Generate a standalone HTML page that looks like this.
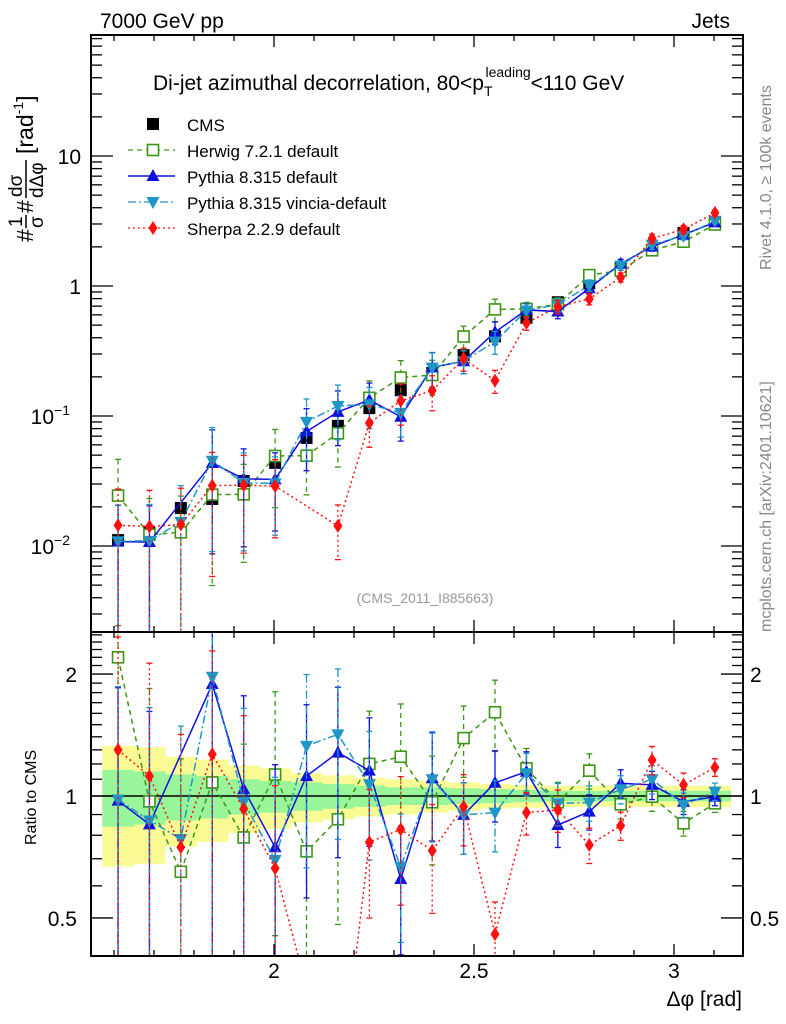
<!DOCTYPE html>
<html><head><meta charset="utf-8"><style>
html,body{margin:0;background:#fff;width:786px;height:1024px;overflow:hidden;}
svg{display:block;font-family:"Liberation Sans",sans-serif;}
</style></head><body>
<svg id="c" width="786" height="1024" style="position:absolute;left:0;top:0" xmlns="http://www.w3.org/2000/svg"></svg>
<script>
const binCenters=[1.6101,1.6886,1.7671,1.8457,1.9242,2.0028,2.0813,2.1598,2.2384,2.3169,2.3955,2.4740,2.5525,2.6311,2.7096,2.7882,2.8667,2.9452,3.0238,3.1023];
const cmsVals=[0.0111,0.0126,0.0196,0.0230,0.0316,0.0436,0.0678,0.084,0.115,0.158,0.214,0.294,0.41,0.57,0.75,1.05,1.38,1.89,2.56,3.1];
const bandTotal=[0.33,0.32,0.25,0.23,0.19,0.17,0.14,0.125,0.11,0.10,0.09,0.08,0.07,0.065,0.06,0.06,0.06,0.06,0.06,0.06];
const bandStat=[0.16,0.15,0.13,0.12,0.10,0.09,0.08,0.07,0.06,0.05,0.05,0.045,0.04,0.035,0.03,0.03,0.03,0.03,0.03,0.03];
const herwigRatio=[2.20,0.97,0.65,1.08,0.79,1.13,0.73,0.876,1.20,1.25,0.965,1.39,1.61,1.17,0.965,1.155,0.954,0.996,0.856,0.959];
const pythiaRatio=[0.974,0.851,null,1.89,1.04,0.747,1.12,1.28,1.155,0.624,1.106,0.898,1.078,1.148,0.848,0.915,1.075,1.065,0.968,0.996];
const vinciaRatio=[0.98,0.87,0.783,1.97,0.968,0.695,1.33,1.42,1.069,0.669,1.10,0.898,0.91,1.138,0.959,0.963,1.039,1.10,0.95,1.025];
const sherpaRatio=[1.30,1.12,0.747,1.268,0.929,0.663,null,0.17,0.769,0.827,0.733,0.941,0.456,0.91,0.924,0.757,0.845,1.227,1.065,1.177];
const mcRelErr=[0.9,0.9,0.9,0.8,0.7,0.6,0.5,0.45,0.35,0.35,0.3,0.2,0.2,0.12,0.12,0.1,0.08,0.08,0.07,0.05];
const binHalf=Math.PI/80;

const NS="http://www.w3.org/2000/svg";
const svg=document.getElementById('c');
function el(t,a,p){const e=document.createElementNS(NS,t);for(const k in a)e.setAttribute(k,a[k]);(p||svg).appendChild(e);return e;}
const X0=91,X1=743,MT=35,MB=632,RB=956;
const xs=v=>274+400*(v-2);
const ym=v=>286-130*Math.log10(v);
const yr=v=>796-405*Math.log10(v);
const clipM=el('clipPath',{id:'cm'});el('rect',{x:X0,y:MT,width:X1-X0,height:MB-MT},clipM);
const clipR=el('clipPath',{id:'cr'});el('rect',{x:X0,y:MB,width:X1-X0,height:RB-MB},clipR);

const gB=el('g',{'clip-path':'url(#cr)'});

binCenters.forEach((c,i)=>{
  const r=el('rect',{x:xs(c-binHalf),width:xs(c+binHalf)-xs(c-binHalf)+0.5,y:yr(1+bandTotal[i]),height:yr(1-bandTotal[i])-yr(1+bandTotal[i]),fill:'#fbfb96'},gB);
  
});
binCenters.forEach((c,i)=>{
  const r=el('rect',{x:xs(c-binHalf),width:xs(c+binHalf)-xs(c-binHalf)+0.5,y:yr(1+bandStat[i]),height:yr(1-bandStat[i])-yr(1+bandStat[i]),fill:'#99f599'},gB);
  
});
el('line',{x1:X0,x2:X1,y1:yr(1),y2:yr(1),stroke:'#000','stroke-width':1.5});

const series=[
 {name:'herwig',ratio:herwigRatio,color:'#3c9614',dash:'5,4',marker:'sq'},
 {name:'pythia',ratio:pythiaRatio,color:'#1010e0',dash:'',marker:'up'},
 {name:'vincia',ratio:vinciaRatio,color:'#1e96c8',dash:'8,3,2,3',marker:'dn'},
 {name:'sherpa',ratio:sherpaRatio,color:'#ff1010',dash:'2,3',marker:'di'}];

function marker(g,type,x,y,col,nm){
  let m;
  if(type==='sq')m=el('rect',{x:x-5.5,y:y-5.5,width:11,height:11,fill:'#fff',stroke:col,'stroke-width':1.6},g);
  else if(type==='up')m=el('polygon',{points:`${x},${y-7} ${x-6.5},${y+5} ${x+6.5},${y+5}`,fill:col},g);
  else if(type==='dn')m=el('polygon',{points:`${x},${y+7} ${x-6.5},${y-5} ${x+6.5},${y-5}`,fill:col},g);
  else if(type==='di')m=el('polygon',{points:`${x},${y-7} ${x-4.5},${y} ${x},${y+7} ${x+4.5},${y}`,fill:col},g);
  else m=el('rect',{x:x-6,y:y-6,width:12,height:12,fill:'#000'},g);
  
  
}

function drawSeries(s,panel){
  const clip=panel==='main'?'url(#cm)':'url(#cr)';
  const g=el('g',{'clip-path':clip});
  
  
  const pts=[];
  const bottom=panel==='main'?MB+5:RB+5;
  binCenters.forEach((c,i)=>{
    const r=s.ratio[i]; if(r==null)return;
    const v=panel==='main'?r*cmsVals[i]:r;
    const f=panel==='main'?ym:yr;
    const lo=v*(1-mcRelErr[i]), hi=v*(1+mcRelErr[i]);
    const yl=lo>0?Math.min(f(lo),bottom):bottom;
    const x=xs(c);
    const eb=el('line',{x1:x,x2:x,y1:f(hi),y2:yl,stroke:s.color,'stroke-width':1.3,'stroke-dasharray':s.dash},g);
    
    el('line',{x1:x-3,x2:x+3,y1:f(hi),y2:f(hi),stroke:s.color,'stroke-width':1.3},g);
    if(lo>0)el('line',{x1:x-3,x2:x+3,y1:f(lo),y2:f(lo),stroke:s.color,'stroke-width':1.3},g);
    pts.push([x,f(v)]);
  });
  const p=el('polyline',{points:pts.map(q=>q.join(',')).join(' '),fill:'none',stroke:s.color,'stroke-width':1.5,'stroke-dasharray':s.dash},g);
  
  pts.forEach(q=>marker(g,s.marker,q[0],q[1],s.color,s.name+'-marker'));
}
const gC=el('g',{'clip-path':'url(#cm)'});

binCenters.forEach((c,i)=>marker(gC,'cms',xs(c),ym(cmsVals[i]),'#000','cms-point'));
series.forEach(s=>{drawSeries(s,'main');drawSeries(s,'ratio');});

[[MT,MB],[MB,RB]].forEach(([a,b],k)=>{
  const r=el('rect',{x:X0,y:a,width:X1-X0,height:b-a,fill:'none',stroke:'#000','stroke-width':2});
  
});
for(let k=16;k<=31;k++){
  const v=k/10,x=xs(v); if(x<X0||x>X1)continue;
  const major=(k%5===0)?12:6;
  [[MT,1],[MB,-1],[MB,1],[RB,-1]].forEach(([y,d])=>el('line',{x1:x,x2:x,y1:y,y2:y+d*major,stroke:'#000','stroke-width':1.3}));
}
[[2,'2'],[2.5,'2.5'],[3,'3']].forEach(([v,t])=>{const e=el('text',{x:xs(v),y:978,'font-size':21,'text-anchor':'middle'});e.textContent=t;});
for(let d=-3;d<=1;d++)for(let m=1;m<=9;m++){
  const v=m*Math.pow(10,d),y=ym(v); if(y<MT||y>MB)continue;
  const L=m===1?22:11;
  el('line',{x1:X0,x2:X0+L,y1:y,y2:y,stroke:'#000','stroke-width':1.3});
  el('line',{x1:X1,x2:X1-L,y1:y,y2:y,stroke:'#000','stroke-width':1.3});
}
[[10,'10',''],[1,'1',''],[0.1,'10','−1'],[0.01,'10','−2']].forEach(([v,t,s])=>{
  const e=el('text',{x:s?70:81,y:ym(v)+8,'font-size':21,'text-anchor':'end'});e.textContent=t;
  if(s){const ts=el('tspan',{dy:-9,'font-size':14},e);ts.textContent=s;}
  
});
[0.4,0.5,0.6,0.7,0.8,0.9,1,1.1,1.2,1.3,1.4,1.5,1.6,1.7,1.8,1.9,2,2.1,2.2,2.3,2.4,2.5].forEach(v=>{
  const y=yr(v); if(y<MB||y>RB)return;
  const L=(v===0.5||v===1||v===2)?22:11;
  el('line',{x1:X0,x2:X0+L,y1:y,y2:y,stroke:'#000','stroke-width':1.3});
  el('line',{x1:X1,x2:X1-L,y1:y,y2:y,stroke:'#000','stroke-width':1.3});
});
[[2,'2'],[1,'1'],[0.5,'0.5']].forEach(([v,t])=>{
  const a=el('text',{x:77,y:yr(v)+8,'font-size':21,'text-anchor':'end'});a.textContent=t;
  const b=el('text',{x:750,y:yr(v)+8,'font-size':21}); b.textContent=t;
});
</script>
<svg width="786" height="1024" style="position:absolute;left:0;top:0" xmlns="http://www.w3.org/2000/svg" font-family="Liberation Sans, sans-serif">
<text x="100" y="28" font-size="21">7000 GeV pp</text>
<text x="730" y="28" font-size="21" text-anchor="end">Jets</text>
<text x="153" y="90" font-size="21">Di-jet azimuthal decorrelation, 80&lt;p<tspan dy="6" font-size="14">T</tspan><tspan dy="-19" dx="-7" font-size="14">leading</tspan><tspan dy="13">&lt;110 GeV</tspan></text>
<g font-size="17">
 <rect x="147" y="118" width="12" height="12" fill="#000"/>
 <text x="187" y="131">CMS</text>
 <line x1="128" x2="175" y1="150" y2="150" stroke="#3c9614" stroke-width="1.3" stroke-dasharray="5,4"/>
 <rect x="147.5" y="144.5" width="11" height="11" fill="#fff" stroke="#3c9614" stroke-width="1.6"/>
 <text x="187" y="157">Herwig 7.2.1 default</text>
 <line x1="128" x2="175" y1="176" y2="176" stroke="#1010e0" stroke-width="1.5"/>
 <polygon points="153,169 146.5,181 159.5,181" fill="#1010e0"/>
 <text x="187" y="183">Pythia 8.315 default</text>
 <line x1="128" x2="175" y1="202" y2="202" stroke="#1e96c8" stroke-width="1.3" stroke-dasharray="8,3,2,3"/>
 <polygon points="153,209 146.5,197 159.5,197" fill="#1e96c8"/>
 <text x="187" y="209">Pythia 8.315 vincia-default</text>
 <line x1="128" x2="175" y1="228" y2="228" stroke="#ff1010" stroke-width="1.3" stroke-dasharray="2,3"/>
 <polygon points="153,221 148.5,228 153,235 157.5,228" fill="#ff1010"/>
 <text x="187" y="235">Sherpa 2.2.9 default</text>
</g>
<text x="425" y="603" font-size="14" fill="#999" text-anchor="middle">(CMS_2011_I885663)</text>
<text transform="translate(771,270) rotate(-90)" font-size="16" fill="#888">Rivet 4.1.0, ≥ 100k events</text>
<text transform="translate(771,632) rotate(-90)" font-size="16" fill="#888">mcplots.cern.ch [arXiv:2401.10621]</text>
<g transform="translate(33,242) rotate(-90)" font-size="23">
 <text x="0" y="0">#</text>
 <text x="15" y="-11" font-size="19">1</text><line x1="14" x2="27" y1="-7" y2="-7" stroke="#000" stroke-width="1.5"/><text x="14" y="10" font-size="19">σ</text>
 <text x="29" y="0">#</text>
 <text x="45" y="-11" font-size="19">dσ</text><line x1="44" x2="82" y1="-7" y2="-7" stroke="#000" stroke-width="1.5"/><text x="44" y="10" font-size="19">dΔφ</text>
 <text x="88" y="0">[rad<tspan dy="-10" font-size="14">-1</tspan><tspan dy="10">]</tspan></text>
</g>
<text transform="translate(36,845) rotate(-90)" font-size="16">Ratio to CMS</text>
<text x="742" y="1006" font-size="21" text-anchor="end">Δφ [rad]</text>
</svg>
</body></html>
